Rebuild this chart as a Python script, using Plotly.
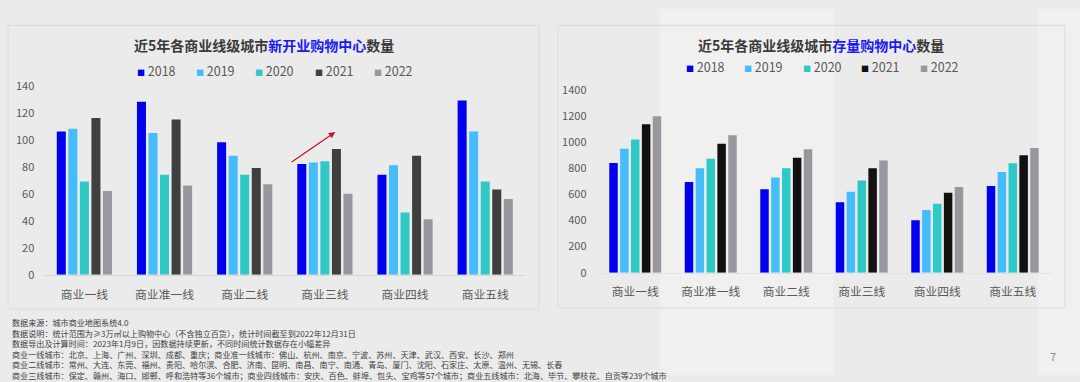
import plotly.graph_objects as go

# ---------------- data ----------------
categories = ["商业一线", "商业准一线", "商业二线", "商业三线", "商业四线", "商业五线"]
years = ["2018", "2019", "2020", "2021", "2022"]

new_2018 = [106, 128, 98, 82, 74, 129]
new_2019 = [108, 105, 88, 83, 81, 106]
new_2020 = [69, 74, 74, 84, 46, 69]
new_2021 = [116, 115, 79, 93, 88, 63]
new_2022 = [62, 66, 67, 60, 41, 56]

stock_2018 = [840, 694, 638, 540, 401, 664]
stock_2019 = [948, 799, 728, 620, 481, 770]
stock_2020 = [1019, 872, 799, 706, 528, 838]
stock_2021 = [1136, 987, 880, 799, 613, 899]
stock_2022 = [1197, 1053, 945, 858, 657, 955]

left_ticks = [0, 20, 40, 60, 80, 100, 120, 140]
right_ticks = [0, 200, 400, 600, 800, 1000, 1200, 1400]

title_left = ("近5年各商业线级城市", "新开业购物中心", "数量")
title_right = ("近5年各商业线级城市", "存量购物中心", "数量")

footer_lines = [
    "数据来源：城市商业地图系统4.0",
    "数据说明：统计范围为≥3万㎡以上购物中心（不含独立百货），统计时间截至到2022年12月31日",
    "数据导出及计算时间：2023年1月9日，因数据持续更新，不同时间统计数据存在小幅差异",
    "商业一线城市：北京、上海、广州、深圳、成都、重庆；商业准一线城市：佛山、杭州、南京、宁波、苏州、天津、武汉、西安、长沙、郑州",
    "商业二线城市：常州、大连、东莞、福州、贵阳、哈尔滨、合肥、济南、昆明、南昌、南宁、南通、青岛、厦门、沈阳、石家庄、太原、温州、无锡、长春",
    "商业三线城市：保定、赣州、海口、邯郸、呼和浩特等36个城市；商业四线城市：安庆、百色、蚌埠、包头、宝鸡等57个城市；商业五线城市：北海、毕节、攀枝花、自贡等239个城市",
]
page_number = "7"

# ---------------- styles ----------------
W, H = 1080, 382
FONT = "Noto Sans CJK SC"
colors_left = ["#0000ee", "#45bdfa", "#2ec9c6", "#3f3f3f", "#97989d"]
colors_right = ["#0000ee", "#45bdfa", "#2ec9c6", "#111111", "#97989d"]
BG = "#ebebeb"


def px(x):
    return x / W


def py(y):
    return 1 - y / H


new_series = [new_2018, new_2019, new_2020, new_2021, new_2022]
stock_series = [stock_2018, stock_2019, stock_2020, stock_2021, stock_2022]

fig = go.Figure()
for yr, vals, c in zip(years, new_series, colors_left):
    fig.add_trace(go.Bar(x=categories, y=vals, name=yr, marker_color=c,
                         marker_line_width=0, xaxis="x", yaxis="y", showlegend=False))
for yr, vals, c in zip(years, stock_series, colors_right):
    fig.add_trace(go.Bar(x=categories, y=vals, name=yr, marker_color=c,
                         marker_line_width=0, xaxis="x2", yaxis="y2", showlegend=False))

axis_common = dict(showgrid=False, zeroline=False, ticks="", fixedrange=True)

fig.update_layout(
    width=W, height=H,
    margin=dict(l=0, r=0, t=0, b=0),
    paper_bgcolor=BG, plot_bgcolor="rgba(0,0,0,0)",
    barmode="group", bargap=0.28, bargroupgap=0.22,
    font=dict(family=FONT, color="#595959"),
    xaxis=dict(domain=[px(44.3), px(525.3)], anchor="y", showline=True,
               linecolor="#d6d6d6", linewidth=1,
               tickfont=dict(size=11.8, color="#595959"), ticklabelstandoff=9,
               **axis_common),
    yaxis=dict(domain=[py(277.3), py(80)], anchor="x", range=[0, 140],
               tickvals=left_ticks, tickfont=dict(size=11, color="#595959"),
               ticklabelstandoff=9, showline=False, **axis_common),
    xaxis2=dict(domain=[px(597.5), px(1050.5)], anchor="y2", showline=True,
                linecolor="#e2e2e2", linewidth=1,
                tickfont=dict(size=11.8, color="#595959"), ticklabelstandoff=8,
                **axis_common),
    yaxis2=dict(domain=[py(275.3), py(84.3)], anchor="x2", range=[0, 1400],
                tickvals=right_ticks, tickfont=dict(size=11, color="#595959"),
                ticklabelstandoff=10, showline=False, **axis_common),
)

shapes = [
    # faint decorative background bands
    dict(type="rect", xref="paper", yref="paper", x0=px(660), x1=px(834), y0=0, y1=1,
         fillcolor="#f0f0f0", line_width=0, layer="below"),
    dict(type="rect", xref="paper", yref="paper", x0=px(1038), x1=1, y0=0, y1=1,
         fillcolor="#f0f0f0", line_width=0, layer="below"),
    # panel frames
    dict(type="rect", xref="paper", yref="paper", x0=px(8), x1=px(539), y0=py(313), y1=py(17),
         line=dict(color="#dcdcdc", width=1), fillcolor="rgba(0,0,0,0)", layer="below"),
    dict(type="rect", xref="paper", yref="paper", x0=px(558), x1=px(1065), y0=py(312), y1=py(17),
         line=dict(color="#dcdcdc", width=1), fillcolor="rgba(0,0,0,0)", layer="below"),
]
fig.update_layout(shapes=shapes)

ann = []


def title_text(parts):
    return (f"<b>{parts[0]}<span style='color:#1a1af2'>{parts[1]}</span>{parts[2]}</b>")


ann.append(dict(xref="paper", yref="paper", x=px(264), y=py(38), xanchor="center", yanchor="middle",
                text=title_text(title_left), showarrow=False,
                font=dict(family=FONT, size=14, color="#3a3a3a")))
ann.append(dict(xref="paper", yref="paper", x=px(820.6), y=py(38), xanchor="center", yanchor="middle",
                text=title_text(title_right), showarrow=False,
                font=dict(family=FONT, size=14, color="#3a3a3a")))

# legends
for i, (yr, c) in enumerate(zip(years, colors_left)):
    ann.append(dict(xref="paper", yref="paper", x=px(135 + i * 59.2), y=py(64),
                    xanchor="left", yanchor="middle", showarrow=False,
                    text=f"<span style='color:{c};font-size:8px'>■</span> {yr}",
                    font=dict(family=FONT, size=12.5, color="#595959")))
for i, (yr, c) in enumerate(zip(years, colors_right)):
    ann.append(dict(xref="paper", yref="paper", x=px(683.6 + i * 58.6), y=py(60),
                    xanchor="left", yanchor="middle", showarrow=False,
                    text=f"<span style='color:{c};font-size:8px'>■</span> {yr}",
                    font=dict(family=FONT, size=12.5, color="#595959")))

# red trend arrow in left chart
ann.append(dict(xref="x", yref="y", axref="x", ayref="y",
                x=3.13, y=105.7, ax=2.567, ay=82.7,
                showarrow=True, arrowhead=2, arrowsize=1, arrowwidth=1.3,
                arrowcolor="#c8142a", text=""))

# footer notes (one multi-line block)
ann.append(dict(xref="paper", yref="paper", x=px(10), y=py(319), align="left",
                xanchor="left", yanchor="top", showarrow=False, text="<br>".join(footer_lines),
                font=dict(family=FONT, size=8.1, color="#404040")))

ann.append(dict(xref="paper", yref="paper", x=px(1053), y=py(362), xanchor="center", yanchor="middle",
                showarrow=False, text=page_number, font=dict(family=FONT, size=11, color="#8a8a8a")))

fig.update_layout(annotations=ann)

fig.write_html("out.html", config={"displayModeBar": False, "staticPlot": True})

# remove the default page margin so the figure fills the window exactly
with open("out.html", "r", encoding="utf-8") as f:
    html = f.read()
html = html.replace("<head>", "<head><style>html,body{margin:0;padding:0;overflow:hidden;}</style>", 1)
with open("out.html", "w", encoding="utf-8") as f:
    f.write(html)
